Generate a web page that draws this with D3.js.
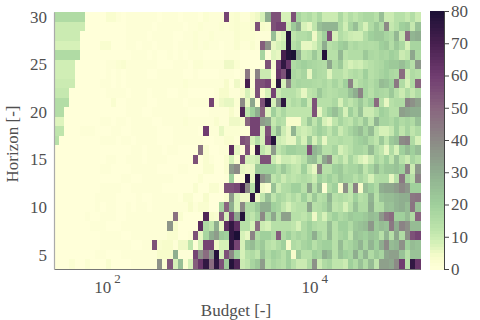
<!DOCTYPE html>
<html>
<head>
<meta charset="utf-8">
<script src="https://cdn.jsdelivr.net/npm/d3@7"></script>
<style>
  html, body { margin: 0; padding: 0; background: #fff; }
  svg { display: block; }
  text { font-family: "Liberation Serif", serif; fill: #505050; }
</style>
</head>
<body>
<div id="chart"></div>
<script>
var width = 480, height = 320;
var plot = { left: 54, right: 420, top: 12, bottom: 269 };

var budgets = [32.6,36.6,41,46,51.6,57.8,64.9,72.7,81.6,91.5,102.6,115,129,145,162,182,204,229,257,288,323,362,406,455,511,573,642,720,808,906,1016,1139,1278,1433,1607,1802,2021,2267,2542,2851,3197,3586,4021,4510,5058,5672,6361,7134,8001,8973,10063,11286,12657,14195,15920,17854,20023,22456,25184,28244,31675,35524,39840,44680,50109,56197,63025,70683,79270,88902,99703];
var horizons = [30,29,28,27,26,25,24,23,22,21,20,19,18,17,16,15,14,13,12,11,10,9,8,7,6,5,4];

// one row per horizon, top of the chart first
var cells = [
  [16,16,16,16,16,16,0,0,0,0,3,3,1,0,1,1,1,1,1,1,0,1,1,1,0,1,1,1,0,2,1,1,1,58,2,3,1,1,4,5,8,30,55,55,8,8,55,18,14,16,12,17,10,10,10,17,11,15,12,15,17,17,14,25,10,10,14,14,11,15,10],
  [10,10,10,10,10,10,0,0,0,0,0,0,0,0,1,1,1,1,1,0,1,1,1,1,1,0,1,1,2,1,1,1,2,1,2,3,2,2,3,55,4,3,55,58,58,10,22,30,8,6,12,25,28,28,28,16,9,18,25,14,8,16,22,16,40,11,14,20,22,11,24],
  [10,10,10,10,10,0,0,0,0,0,0,0,0,0,1,1,1,1,0,1,1,1,1,0,0,1,1,2,1,1,2,1,1,1,1,3,2,2,2,1,1,1,25,6,8,78,12,15,15,17,5,13,20,55,8,15,12,10,9,9,15,20,22,22,18,16,27,11,48,28,30],
  [8,8,8,8,8,0,0,0,0,3,3,0,0,0,1,1,0,1,1,0,1,1,1,0,1,1,1,2,1,2,1,1,0,1,1,3,1,1,3,1,52,38,6,8,10,78,14,17,6,6,8,14,30,14,16,20,22,15,17,15,16,15,16,20,22,15,22,17,8,18,18],
  [16,16,16,16,16,0,0,0,0,0,0,0,0,0,0,1,1,1,0,1,0,0,1,0,1,0,1,1,1,0,0,0,0,1,1,1,0,0,0,0,18,1,7,6,70,78,80,30,12,14,22,14,78,14,14,27,13,15,15,15,22,17,16,18,17,20,18,10,12,32,17],
  [9,9,9,9,0,0,0,0,0,0,1,1,2,3,1,1,1,1,1,1,0,0,0,1,1,1,0,2,2,1,1,1,1,5,5,2,0,0,0,0,0,55,3,60,75,62,16,18,20,18,17,16,15,32,16,22,11,8,10,9,12,14,16,17,20,22,22,25,20,14,36],
  [9,9,9,9,0,0,0,0,0,0,1,0,1,0,1,1,1,1,0,0,1,1,1,1,1,0,0,1,0,0,0,0,1,1,1,0,1,45,1,42,10,10,1,62,55,78,17,15,18,6,18,16,15,7,14,14,11,14,16,14,20,14,16,18,20,17,16,48,10,16,14],
  [10,10,10,10,0,0,0,0,0,1,1,0,1,0,1,1,1,1,1,1,1,1,1,1,1,2,1,1,1,1,1,1,1,4,0,5,1,70,1,55,55,58,4,76,8,40,16,18,17,17,16,15,17,14,18,14,20,42,12,16,18,15,18,26,24,20,45,16,8,16,50],
  [11,11,11,0,0,0,0,0,0,0,1,1,1,1,0,1,1,1,0,1,1,1,0,0,1,1,0,0,0,0,0,1,4,4,1,1,4,8,3,55,4,8,58,10,14,14,14,11,6,12,14,22,16,14,15,17,17,24,30,42,18,14,18,17,16,22,14,10,16,11,16],
  [15,15,15,0,0,0,0,0,0,0,0,3,0,0,1,1,1,1,0,0,1,1,1,1,1,0,1,1,1,1,58,2,5,6,6,2,40,6,32,2,55,78,8,35,76,12,16,14,20,10,55,14,14,14,17,8,16,12,16,22,15,20,48,14,6,14,16,16,42,38,34],
  [15,15,0,0,0,0,0,0,0,0,0,0,0,0,1,1,1,0,0,1,1,1,1,1,1,1,0,0,0,0,1,1,1,1,4,1,68,12,20,30,50,7,20,12,17,12,12,12,12,12,55,6,14,20,25,18,8,20,14,24,10,10,14,20,18,14,14,34,32,30,30],
  [7,7,0,0,0,0,0,0,0,1,1,0,1,1,0,1,1,1,1,0,0,1,1,1,1,2,1,1,1,1,1,3,1,1,5,5,4,50,58,58,35,32,11,16,14,4,4,4,12,22,12,20,8,6,12,18,14,12,18,14,22,12,28,18,18,16,20,16,18,16,24],
  [12,12,0,0,0,1,1,1,0,0,0,1,1,0,0,1,1,1,1,1,0,0,0,1,1,1,1,1,0,60,1,1,6,2,2,2,1,1,58,58,8,55,14,26,10,6,28,11,9,11,16,20,17,12,18,10,14,18,22,26,18,26,12,8,8,11,20,12,18,12,16],
  [14,0,0,0,0,0,0,0,0,1,1,1,0,1,1,0,1,1,1,1,0,0,0,1,1,1,1,1,1,0,0,1,1,3,3,1,55,52,8,15,8,58,78,10,8,6,6,15,8,22,8,16,6,14,14,16,14,14,18,20,22,16,12,22,12,22,25,40,42,16,8],
  [0,0,0,0,0,0,0,0,0,0,0,0,0,0,0,1,1,0,1,1,1,0,1,1,0,0,0,0,46,3,0,0,1,1,65,6,1,55,3,72,12,8,35,12,16,20,20,18,18,55,28,24,14,14,18,8,11,14,18,18,16,26,16,12,6,16,8,20,26,20,25],
  [0,0,0,0,0,0,0,0,0,0,1,1,0,0,1,1,1,0,1,1,1,1,0,0,0,0,0,55,0,3,1,0,0,3,8,3,55,8,8,10,55,55,10,6,10,10,8,10,14,24,26,14,32,40,12,16,10,18,12,8,6,10,18,14,20,12,24,14,10,18,14],
  [0,0,0,0,0,0,0,0,0,1,1,0,0,0,0,1,1,1,1,1,0,0,0,0,1,1,0,0,0,3,3,0,0,3,35,40,6,5,6,22,20,20,20,15,22,16,12,11,20,10,6,42,14,14,20,22,16,18,18,22,12,18,26,18,22,22,24,20,42,10,36],
  [0,0,0,0,0,0,0,0,0,0,0,0,0,1,1,0,0,1,1,1,1,1,1,0,0,0,0,0,2,0,0,0,0,1,20,0,2,78,6,78,38,32,12,16,10,14,12,14,16,14,10,20,16,20,16,22,18,18,14,18,14,8,15,16,16,6,14,45,18,14,42],
  [0,0,0,0,0,0,0,0,0,1,1,1,1,0,0,1,1,1,1,1,1,0,0,0,0,0,0,3,0,0,3,3,0,55,55,57,72,40,14,78,5,3,24,10,15,16,20,20,14,32,14,26,2,16,20,4,38,12,42,4,25,20,16,30,32,32,35,40,36,20,20],
  [0,0,0,0,0,0,0,0,1,1,1,1,0,0,0,0,1,0,0,1,1,1,1,1,0,3,3,0,0,4,0,0,0,3,35,8,5,5,75,5,12,25,12,18,16,12,16,12,20,12,22,14,16,28,14,16,14,12,20,14,16,28,14,24,26,26,28,30,30,45,46],
  [0,0,0,0,0,0,0,0,1,0,1,1,0,0,1,0,1,1,0,1,1,1,1,1,1,1,4,1,3,3,0,0,18,50,30,8,40,16,16,22,30,30,20,18,12,8,12,14,14,32,14,15,18,25,12,14,8,14,24,16,16,30,15,16,25,24,28,30,26,46,24],
  [0,0,0,0,0,0,1,0,0,1,1,1,0,0,1,1,1,1,1,1,1,1,1,47,3,0,0,0,0,68,4,3,52,8,58,32,78,15,12,18,40,18,32,16,34,34,14,14,12,16,5,14,8,16,20,16,18,22,20,20,22,26,24,36,45,48,20,20,26,16,50],
  [0,0,0,0,0,0,0,1,1,1,0,0,0,1,1,1,1,1,1,1,1,1,37,4,0,0,0,0,65,16,12,30,6,65,75,65,14,14,8,48,10,8,14,14,14,14,12,8,16,20,16,14,14,25,14,20,20,16,22,24,26,36,22,26,24,45,30,42,38,26,26],
  [0,0,0,0,0,0,0,0,0,1,1,1,1,0,0,1,1,1,1,1,1,1,3,3,0,0,1,55,6,18,30,35,22,20,75,80,8,6,42,16,20,20,16,52,16,20,15,18,16,20,30,18,14,26,14,18,20,12,24,22,20,24,22,14,28,14,32,16,38,55,58],
  [0,0,0,0,0,0,0,0,0,1,1,1,1,1,1,0,0,1,1,55,3,4,4,1,5,5,12,1,8,58,58,5,8,8,75,58,8,22,26,18,22,14,12,16,20,4,16,14,18,20,14,18,20,20,14,26,16,18,22,28,18,28,20,30,40,26,28,38,20,26,24],
  [0,0,0,0,0,0,0,0,1,1,0,0,0,1,1,1,1,1,1,1,4,4,4,30,1,1,1,58,38,48,35,78,8,55,40,20,8,14,16,12,24,16,20,18,14,20,4,22,14,14,20,18,30,26,14,24,20,18,30,18,28,16,22,18,32,34,34,24,14,24,24],
  [0,0,0,2,0,0,2,0,0,0,3,0,0,0,0,1,1,1,1,1,38,2,53,8,25,2,8,52,62,75,48,76,55,22,78,68,10,12,18,22,35,14,18,16,14,20,14,10,10,16,38,10,16,18,12,12,10,20,16,24,16,26,12,34,34,32,40,60,14,75,62]
];

var yTicks = [5,10,15,20,25,30];
var xTicks = [100,10000];
var cbarTicks = [0,10,20,30,40,50,60,70,80];
var colorStops = [0,4,8,12,20,30,40,50,60,70,80];
var colorValues = ["#ffffd9","#f7fccb","#d6f1b8","#bfe5ac","#a0d09c","#8fae8f","#8c8a86","#89657f","#703c70","#47204f","#1c1036"];

var svg = d3.select("#chart").append("svg").attr("width", width).attr("height", height);

var color = d3.scaleLinear().domain(colorStops).range(colorValues);
var xBand = d3.scaleBand().domain(budgets).range([plot.left, plot.right]);
var yBand = d3.scaleBand().domain(horizons).range([plot.top, plot.bottom]);
var x = d3.scaleLog().domain([30.8, 105000]).range([plot.left, plot.right]);
var y = d3.scaleLinear().domain([3.5, 30.5]).range([plot.bottom, plot.top]);
var cbarY = d3.scaleLinear().domain([0, 80]).range([plot.bottom, plot.top - 1]);

// heatmap
svg.append("g").selectAll("g")
  .data(cells)
  .join("g")
  .attr("transform", function (d, i) { return "translate(0," + yBand(horizons[i]) + ")"; })
  .selectAll("rect")
  .data(function (d) { return d; })
  .join("rect")
  .attr("x", function (d, i) { return xBand(budgets[i]); })
  .attr("width", xBand.bandwidth() + 0.5)
  .attr("height", yBand.bandwidth() + 0.5)
  .attr("shape-rendering", "crispEdges")
  .attr("fill", function (d) { return color(d); });

// axes
var xAxis = svg.append("g")
  .attr("transform", "translate(0," + plot.bottom + ")")
  .call(d3.axisBottom(x).tickValues(xTicks).tickSize(0).tickPadding(12).tickFormat(function () { return ""; }));
xAxis.select(".domain").attr("stroke", "#777").attr("stroke-width", 1.2);
xAxis.selectAll(".tick text").attr("font-size", 17).attr("fill", "#505050")
  .each(function (d) {
    var t = d3.select(this);
    t.append("tspan").text("10");
    t.append("tspan").attr("dx", 3).attr("dy", -10).attr("font-size", 13).text(Math.round(Math.log10(d)));
  });

var yAxis = svg.append("g")
  .attr("transform", "translate(" + plot.left + ",0)")
  .call(d3.axisLeft(y).tickValues(yTicks).tickSize(0).tickPadding(7));
yAxis.select(".domain").attr("stroke", "#aaa").attr("stroke-width", 1.2);
yAxis.selectAll(".tick text").attr("font-size", 17).attr("fill", "#505050");

svg.append("text").attr("x", 236).attr("y", 316).attr("text-anchor", "middle").attr("font-size", 17).text("Budget [-]");
svg.append("text").attr("transform", "translate(18,144) rotate(-90)").attr("text-anchor", "middle").attr("font-size", 17).text("Horizon [-]");

// colorbar
svg.append("g").selectAll("rect")
  .data(d3.range(0, 80))
  .join("rect")
  .attr("x", 430)
  .attr("y", function (d) { return cbarY(d + 1); })
  .attr("width", 14)
  .attr("height", function (d) { return cbarY(d) - cbarY(d + 1) + 0.5; })
  .attr("shape-rendering", "crispEdges")
  .attr("fill", function (d) { return color(d + 0.5); });

var cbarAxis = svg.append("g")
  .attr("transform", "translate(444,0)")
  .call(d3.axisRight(cbarY).tickValues(cbarTicks).tickSize(5).tickPadding(2).tickSizeOuter(0));
cbarAxis.select(".domain").attr("stroke", "#444");
cbarAxis.selectAll(".tick line").attr("stroke", "#444");
cbarAxis.selectAll(".tick text").attr("font-size", 17).attr("fill", "#505050");
</script>
</body>
</html>
